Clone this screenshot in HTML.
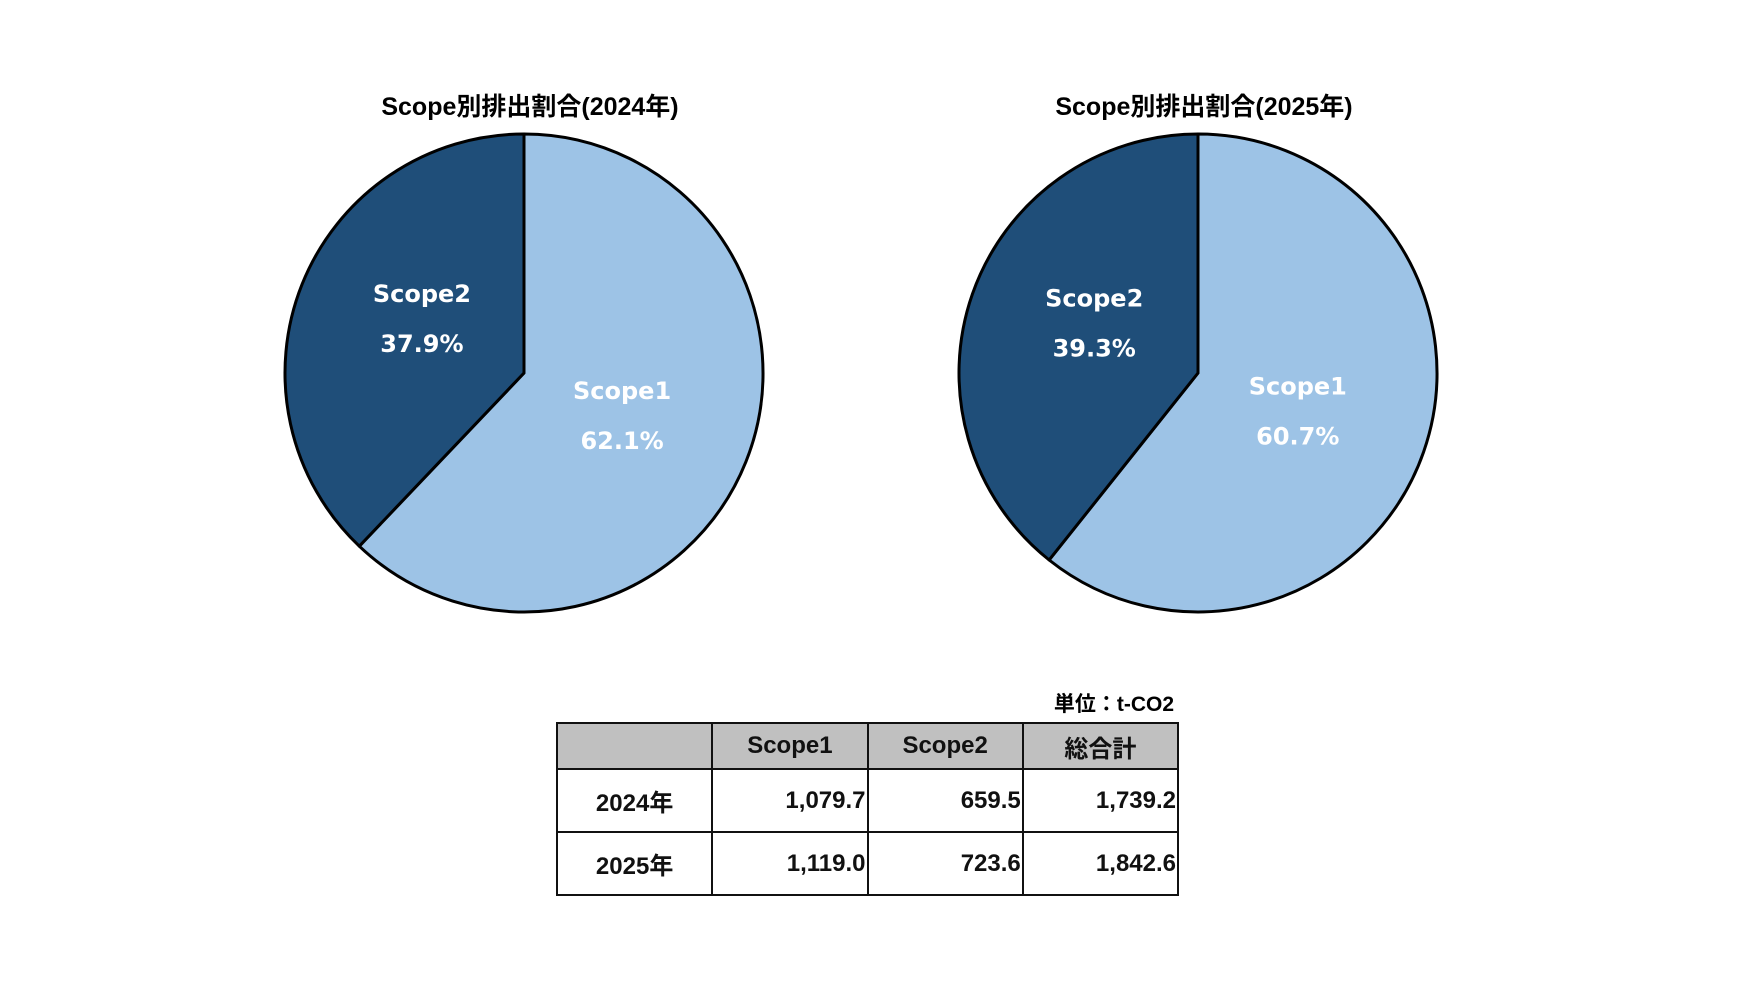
<!DOCTYPE html>
<html><head><meta charset="utf-8">
<style>
body{margin:0;background:#fff;width:1755px;height:987px;overflow:hidden;position:relative;font-family:"Liberation Sans","Noto Sans CJK JP",sans-serif;}
svg{position:absolute;left:0;top:0}
#tbl{position:absolute;left:556px;top:722px;width:623px;table-layout:fixed;border-collapse:collapse;font-size:24px;font-weight:bold;color:#111;}
#tbl td{border:2px solid #111;padding:0 1px;overflow:hidden;white-space:nowrap;}
#tbl tr.h td{background:#c0c0c0;height:44px;text-align:center;}
#tbl tr.r td{height:61px;text-align:right;}
#tbl tr.r td.y{text-align:center;}
#unit{position:absolute;left:986px;width:188px;top:688px;text-align:right;font-size:21px;font-weight:bold;}
</style></head><body>
<svg id="chart" width="1755" height="987"></svg>
<div id="unit">単位：t-CO2</div>
<table id="tbl">
<tr class="h"><td></td><td>Scope1</td><td>Scope2</td><td>総合計</td></tr>
<tr class="r"><td class="y">2024年</td><td>1,079.7</td><td>659.5</td><td>1,739.2</td></tr>
<tr class="r"><td class="y">2025年</td><td>1,119.0</td><td>723.6</td><td>1,842.6</td></tr>
</table>
<script>
const years = ["2024年","2025年"];
const categories = ["Scope1","Scope2"];
const scope1Share = [62.1, 60.7];
const scope2Share = [37.9, 39.3];
const colors = ["#9dc3e6","#1f4e79"];
const svg = document.getElementById('chart');
const NS = "http://www.w3.org/2000/svg";
const centers = [[524,373],[1198,373]];
const R = 239;
function pt(cx,cy,frac){const a=frac*2*Math.PI;return [cx+R*Math.sin(a),cy-R*Math.cos(a)];}
years.forEach((yr,i)=>{
  const [cx,cy]=centers[i];
  const t=document.createElementNS(NS,'text');
  
  
  t.setAttribute('x',cx+6);t.setAttribute('y',115);t.setAttribute('text-anchor','middle');
  t.setAttribute('font-size','25');t.setAttribute('font-weight','bold');
  t.setAttribute('font-family','"Liberation Sans","Noto Sans CJK JP",sans-serif');
  t.textContent='Scope別排出割合('+yr+')';svg.appendChild(t);
  const vals=[scope1Share[i],scope2Share[i]];
  const tot=vals[0]+vals[1];
  let acc=0;
  vals.forEach((v,k)=>{
    const f0=acc/tot, f1=(acc+v)/tot; acc+=v;
    const p0=pt(cx,cy,f0), p1=pt(cx,cy,f1);
    const large=(f1-f0)>0.5?1:0;
    const p=document.createElementNS(NS,'path');
    
    
    p.setAttribute('d',`M${cx},${cy}L${p0[0]},${p0[1]}A${R},${R} 0 ${large} 1 ${p1[0]},${p1[1]}Z`);
    p.setAttribute('fill',colors[k]);p.setAttribute('stroke','#000');p.setAttribute('stroke-width','3');
    p.setAttribute('stroke-linejoin','round');
    svg.appendChild(p);
    const mid=(f0+f1)/2, a=mid*2*Math.PI, lr=R*0.46;
    const lx=cx+lr*Math.sin(a)-(k===0?4:0), ly=cy-lr*Math.cos(a)-(k===1?12:-3);
    [[categories[k],-18],[v.toFixed(1)+'%',32]].forEach(([s,dy],j)=>{
      const l=document.createElementNS(NS,'text');
      
      
      l.setAttribute('x',lx);l.setAttribute('y',ly+dy);l.setAttribute('text-anchor','middle');
      l.setAttribute('font-size','24');l.setAttribute('font-weight','bold');l.setAttribute('fill','#fff');
      l.setAttribute('font-family','"DejaVu Sans",sans-serif');
      l.textContent=s;svg.appendChild(l);
    });
  });
});
</script>
</body></html>
